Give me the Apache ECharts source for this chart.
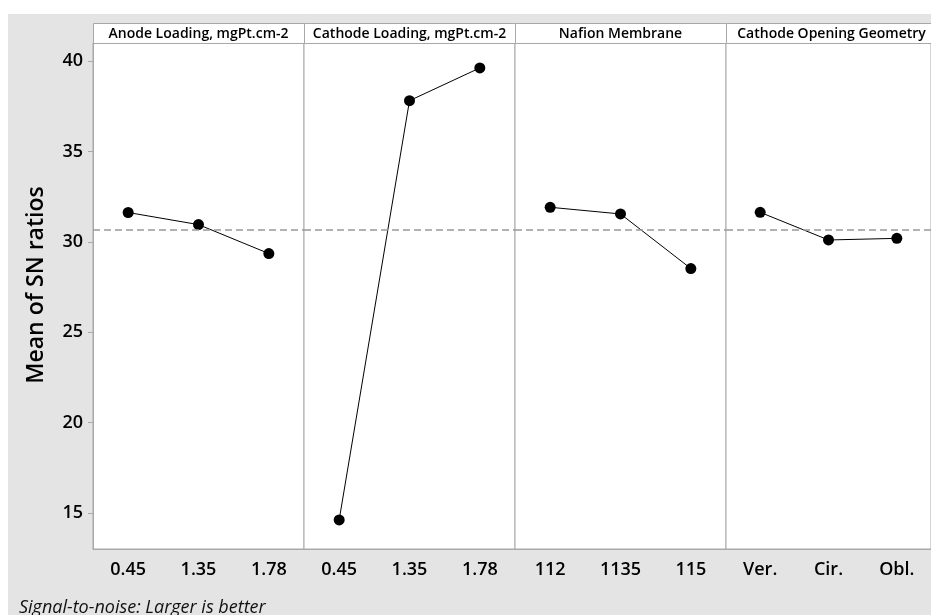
<!DOCTYPE html>
<html>
<head>
<meta charset="utf-8">
<script src="https://cdn.jsdelivr.net/npm/echarts@6/dist/echarts.min.js"></script>
<style>
  html, body { margin: 0; padding: 0; background: #fff; }
  #chart { position: absolute; left: 8px; top: 14px; width: 923px; height: 601px; background: #e4e4e4; }
</style>
</head>
<body>
<div id="chart"></div>
<script>
// factor names (panel headers)
const factorNames = ['Anode Loading, mgPt.cm-2', 'Cathode Loading, mgPt.cm-2', 'Nafion Membrane', 'Cathode Opening Geometry'];

// levels and mean SN ratio per level
const anodeLevels = ['0.45', '1.35', '1.78'];
const anodeMeans = [31.62, 30.95, 29.35];
const cathodeLevels = ['0.45', '1.35', '1.78'];
const cathodeMeans = [14.61, 37.81, 39.62];
const nafionLevels = ['112', '1135', '115'];
const nafionMeans = [31.91, 31.54, 28.52];
const geometryLevels = ['Ver.', 'Cir.', 'Obl.'];
const geometryMeans = [31.63, 30.10, 30.19];

const yTicks = [15, 20, 25, 30, 35, 40];

const levels = [anodeLevels, cathodeLevels, nafionLevels, geometryLevels];
const means = [anodeMeans, cathodeMeans, nafionMeans, geometryMeans];

// overall mean (dashed reference line)
const allValues = [].concat(...means);
const grandMean = allValues.reduce((a, b) => a + b, 0) / allValues.length;

const chart = echarts.init(document.getElementById('chart'));

const panelLeft = 85;
const panelWidth = 211;
const panelTop = 29;
const panelHeight = 506;
const headerTop = 9;
const headerHeight = 20;
const borderColor = '#a8a8a8';
const font = 'Open Sans';

const grids = [], xAxes = [], yAxes = [], series = [], graphics = [];

levels.forEach((cats, i) => {
  grids.push({
    left: panelLeft + i * panelWidth,
    top: panelTop,
    width: panelWidth,
    height: panelHeight,
    show: true,
    backgroundColor: '#fff',
    borderColor: borderColor,
    borderWidth: 1
  });
  xAxes.push({
    type: 'category',
    gridIndex: i,
    data: cats,
    boundaryGap: true,
    axisLine: { lineStyle: { color: borderColor } },
    axisTick: { alignWithLabel: true, length: 4, lineStyle: { color: borderColor } },
    axisLabel: { margin: 12, fontSize: 18, color: '#000', fontFamily: font, fontWeight: 600 }
  });
  yAxes.push({
    type: 'value',
    gridIndex: i,
    min: 13,
    max: 41,
    splitLine: { show: false },
    axisLine: { show: i === 0, lineStyle: { color: borderColor } },
    axisTick: { show: i === 0, length: 5, customValues: yTicks, lineStyle: { color: borderColor } },
    axisLabel: { show: i === 0, customValues: yTicks, margin: 10, fontSize: 18, color: '#000', fontFamily: font, fontWeight: 600 }
  });
  series.push({
    type: 'line',
    xAxisIndex: i,
    yAxisIndex: i,
    data: means[i],
    symbol: 'circle',
    symbolSize: 11,
    itemStyle: { color: '#000' },
    lineStyle: { color: '#000', width: 1 },
    markLine: {
      silent: true,
      symbol: 'none',
      label: { show: false },
      lineStyle: { color: '#999', type: [7, 4], width: 1.5 },
      data: [{ yAxis: grandMean }]
    }
  });
  graphics.push({
    type: 'rect',
    shape: { x: panelLeft + i * panelWidth + 0.5, y: headerTop + 0.5, width: panelWidth, height: headerHeight },
    style: { fill: '#fff', stroke: borderColor, lineWidth: 1 }
  });
  graphics.push({
    type: 'text',
    x: panelLeft + i * panelWidth + panelWidth / 2,
    y: headerTop + headerHeight / 2 + 1,
    style: {
      text: factorNames[i], fill: '#000', font: '600 14px "' + font + '"',
      textAlign: 'center', textVerticalAlign: 'middle'
    }
  });
});

graphics.push({
  type: 'text',
  x: 28,
  y: 271,
  rotation: Math.PI / 2,
  style: {
    text: 'Mean of SN ratios', fill: '#000', font: '600 23px "' + font + '"',
    textAlign: 'center', textVerticalAlign: 'middle'
  }
});
graphics.push({
  type: 'text',
  x: 11,
  y: 585,
  style: {
    text: 'Signal-to-noise: Larger is better', fill: '#111', font: 'italic 18px "' + font + '"',
    textAlign: 'left', textVerticalAlign: 'top'
  }
});

chart.setOption({
  animation: false,
  grid: grids,
  xAxis: xAxes,
  yAxis: yAxes,
  series: series,
  graphic: graphics
});
</script>
</body>
</html>
